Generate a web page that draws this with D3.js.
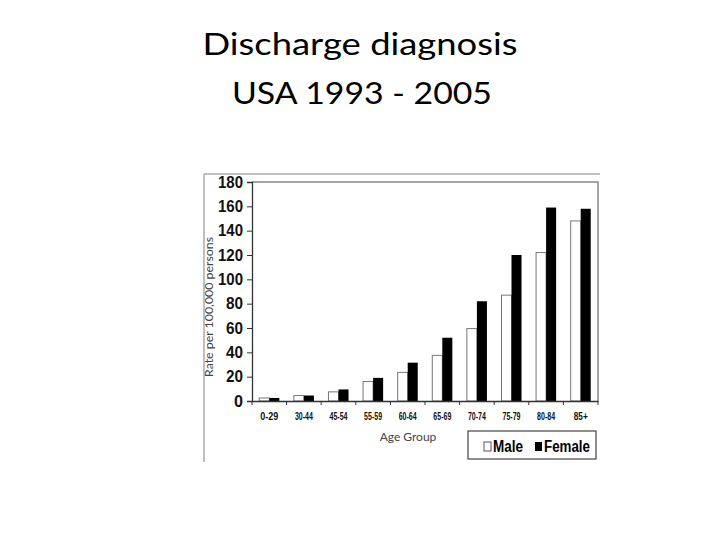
<!DOCTYPE html>
<html lang="en">
<head>
<meta charset="utf-8">
<title>Discharge diagnosis</title>
<script src="https://cdnjs.cloudflare.com/ajax/libs/d3/7.8.5/d3.min.js"></script>
<style>
  html, body { margin: 0; padding: 0; background: white; }
  svg { display: block; }
  .tick text { font-family: "Liberation Sans", Arial, sans-serif; }
</style>
</head>
<body>
<svg id="chart" width="720" height="540"></svg>
<script>
// data
var ageGroups = ["0-29", "30-44", "45-54", "55-59", "60-64", "65-69", "70-74", "75-79", "80-84", "85+"];
var male   = [2.5, 4.5, 7.5, 16, 23.5, 37.5, 59.5, 87, 122, 148];
var female = [2.5, 4.5, 9.5, 19, 31.5, 52, 82, 120, 159, 158];
var yTicks = [0, 20, 40, 60, 80, 100, 120, 140, 160, 180];

var svg = d3.select("#chart");

// slide title
svg.append("text").attr("x", 360).attr("y", 55)
  .attr("text-anchor", "middle")
  .style("font-family", "Lato, 'Open Sans', sans-serif").style("font-size", "31px")
  .attr("textLength", 315).attr("lengthAdjust", "spacingAndGlyphs")
  .text("Discharge diagnosis");
svg.append("text").attr("x", 362).attr("y", 104)
  .attr("text-anchor", "middle")
  .style("font-family", "Lato, 'Open Sans', sans-serif").style("font-size", "31px")
  .attr("textLength", 260).attr("lengthAdjust", "spacingAndGlyphs")
  .text("USA 1993 - 2005");

// edges of the pasted picture
svg.append("line").attr("x1", 204).attr("y1", 174).attr("x2", 600).attr("y2", 174)
  .style("stroke", "#aaa").style("stroke-width", 1.5);
svg.append("line").attr("x1", 204).attr("y1", 174).attr("x2", 204).attr("y2", 462)
  .style("stroke", "#aaa").style("stroke-width", 1.5);

var plotLeft = 252, plotRight = 598, plotTop = 182, plotBottom = 401;

var x = d3.scaleBand().domain(ageGroups).range([plotLeft, plotRight]).paddingInner(0.42).paddingOuter(0.21);
var y = d3.scaleLinear().domain([0, 180]).range([plotBottom, plotTop]);

// plot frame (top/right)
svg.append("path")
  .attr("d", "M" + plotLeft + "," + plotTop + "H" + plotRight + "V" + plotBottom)
  .style("fill", "none").style("stroke", "#888").style("stroke-width", 1.5);

var g = svg.append("g");

g.selectAll("rect.male").data(male).enter().append("rect")
  .attr("class", "male")
  .attr("x", function(d, i) { return x(ageGroups[i]); })
  .attr("y", function(d) { return y(d); })
  .attr("width", x.bandwidth() / 2)
  .attr("height", function(d) { return plotBottom - y(d); })
  .style("fill", "white").style("stroke", "#777").style("stroke-width", 1);

g.selectAll("rect.female").data(female).enter().append("rect")
  .attr("class", "female")
  .attr("x", function(d, i) { return x(ageGroups[i]) + x.bandwidth() / 2; })
  .attr("y", function(d) { return y(d); })
  .attr("width", x.bandwidth() / 2)
  .attr("height", function(d) { return plotBottom - y(d); })
  .style("fill", "black");

// y axis
var yAxis = svg.append("g").attr("transform", "translate(" + plotLeft + ",0)")
  .call(d3.axisLeft(y).tickValues(yTicks).tickSize(5).tickPadding(4));
yAxis.select(".domain").style("stroke", "#333").style("stroke-width", 1.3);
yAxis.selectAll(".tick line").style("stroke", "#333");
yAxis.selectAll(".tick text").style("font-size", "16px").style("font-weight", "bold")
  .style("fill", "#111").attr("textLength", function(d) { return d >= 100 ? 25 : (d > 0 ? 17 : 9); })
  .attr("lengthAdjust", "spacingAndGlyphs");

// x axis
var xAxis = svg.append("g").attr("transform", "translate(0," + plotBottom + ")")
  .call(d3.axisBottom(x).tickSize(0).tickPadding(12));
xAxis.select(".domain").style("stroke", "#333").style("stroke-width", 1.3);
xAxis.selectAll(".tick text").style("font-size", "10px").style("font-weight", "bold")
  .style("fill", "#111").attr("textLength", function(d) { return d === "85+" ? 14 : 18; })
  .attr("lengthAdjust", "spacingAndGlyphs");

// small ticks at the category boundaries
var step = (plotRight - plotLeft) / ageGroups.length;
xAxis.selectAll("line.sep").data(d3.range(ageGroups.length + 1)).enter().append("line")
  .attr("class", "sep")
  .attr("x1", function(i) { return plotLeft + i * step; })
  .attr("x2", function(i) { return plotLeft + i * step; })
  .attr("y1", 0).attr("y2", 4)
  .style("stroke", "#333");

// axis titles
svg.append("text").attr("x", 408).attr("y", 441).attr("text-anchor", "middle")
  .style("font-family", "Lato, 'Open Sans', sans-serif").style("font-size", "12px").style("fill", "#444")
  .text("Age Group");
svg.append("text").attr("transform", "translate(213,307) rotate(-90)").attr("text-anchor", "middle")
  .style("font-family", "Lato, 'Open Sans', sans-serif").style("font-size", "11.5px").style("fill", "#444")
  .attr("textLength", 140).attr("lengthAdjust", "spacingAndGlyphs")
  .text("Rate per 100,000 persons");

// legend
var legend = svg.append("g");
legend.append("rect").attr("x", 468).attr("y", 431).attr("width", 128).attr("height", 28)
  .style("fill", "white").style("stroke", "#444").style("stroke-width", 1.2);
legend.append("rect").attr("x", 484).attr("y", 442).attr("width", 7).attr("height", 9)
  .style("fill", "white").style("stroke", "#555");
legend.append("text").attr("x", 493).attr("y", 452)
  .style("font-family", "'Liberation Sans', Arial, sans-serif").style("font-size", "16px")
  .style("font-weight", "bold")
  .attr("textLength", 30).attr("lengthAdjust", "spacingAndGlyphs")
  .text("Male");
legend.append("rect").attr("x", 535).attr("y", 442).attr("width", 7).attr("height", 9)
  .style("fill", "black");
legend.append("text").attr("x", 544).attr("y", 452)
  .style("font-family", "'Liberation Sans', Arial, sans-serif").style("font-size", "16px")
  .style("font-weight", "bold")
  .attr("textLength", 46).attr("lengthAdjust", "spacingAndGlyphs")
  .text("Female");
</script>
</body>
</html>
